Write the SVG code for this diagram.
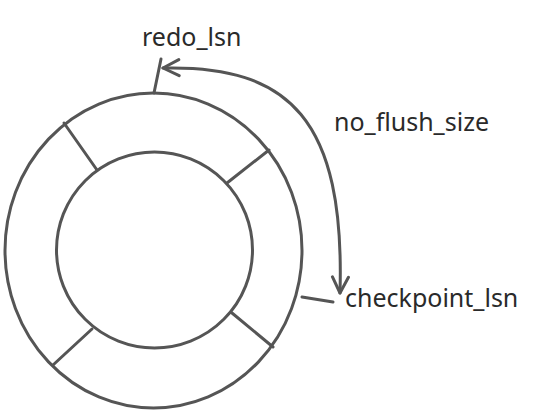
<svg xmlns="http://www.w3.org/2000/svg" width="537" height="412" viewBox="0 0 537 412">
<style>
.s{fill:none;stroke:#555;stroke-width:3;stroke-linecap:round}
.t{font-family:"Noto Sans","Open Sans",sans-serif;font-size:25px;fill:#2a2a2a}
</style>
<defs>
<marker id="ah" viewBox="0 0 20 20" refX="18" refY="10" markerWidth="20" markerHeight="20" markerUnits="userSpaceOnUse" orient="auto-start-reverse">
<path d="M2,2 L18,10 L2,18" fill="none" stroke="#555" stroke-width="3" stroke-linecap="round" stroke-linejoin="round"/>
</marker>
</defs>
<rect width="537" height="412" fill="#fff"/>
<g id="ring">
<ellipse class="s" cx="153.5" cy="250.5" rx="148.5" ry="157.5"/>
<circle class="s" cx="154.5" cy="250" r="98"/>
<line class="s" x1="64" y1="123" x2="97" y2="170"/>
<line class="s" x1="269" y1="150" x2="227" y2="183"/>
<line class="s" x1="232" y1="313" x2="273" y2="347"/>
<line class="s" x1="53" y1="365" x2="92" y2="329"/>
</g>
<g id="redo_lsn">
<line class="s" x1="154" y1="93" x2="161" y2="59"/>
<text class="t" x="142" y="46">redo_lsn</text>
</g>
<g id="checkpoint_lsn">
<line class="s" x1="302" y1="297" x2="333" y2="302"/>
<text class="t" x="345" y="307">checkpoint_lsn</text>
</g>
<g id="connectors">
<path class="s" d="M163,68 C290,65 345,120 340,293" marker-start="url(#ah)" marker-end="url(#ah)"/>
<text class="t" x="334" y="131">no_flush_size</text>
</g>
</svg>
